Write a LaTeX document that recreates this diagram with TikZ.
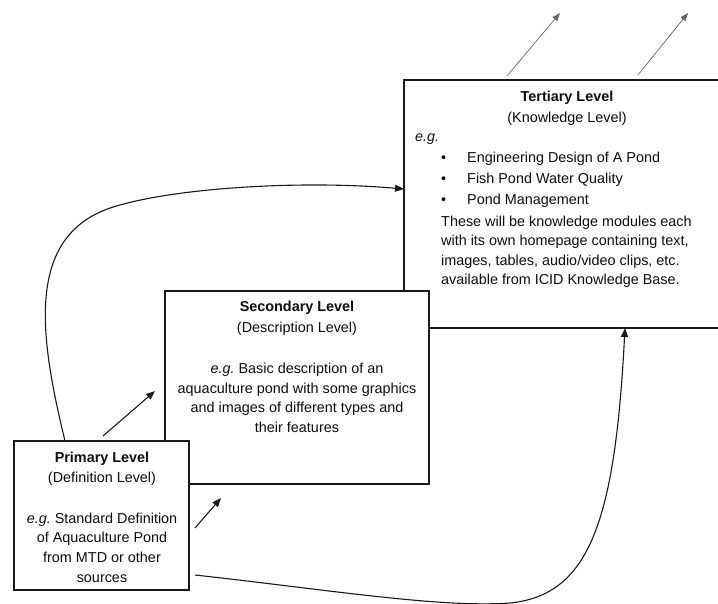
\documentclass[tikz,border=0pt]{standalone}
\usepackage{fontspec}
\setmainfont{Liberation Sans}
\usetikzlibrary{arrows.meta}
\begin{document}
\frenchspacing
\begin{tikzpicture}[x=1pt,y=-1pt,
  box/.style={draw=black!90, line width=1.2pt, fill=white, inner sep=0pt, outer sep=0pt, anchor=north west},
  txt/.style={font=\fontsize{14.4}{19.5}\selectfont, text=black!95, inner sep=0pt, anchor=base},
  ltxt/.style={txt, anchor=base west},
  ttl/.style={txt, font=\fontsize{14.4}{19.5}\selectfont\bfseries},
  arr/.style={line width=1.1pt, draw=black!90, -{Triangle[length=9pt,width=7pt]}},
  thinarr/.style={line width=0.7pt, draw=black!60, -{Triangle[length=8pt,width=6pt]}}]
\useasboundingbox (0,0) rectangle (718,604);
\fill[white] (0,0) rectangle (718,604);

% boxes (drawn back to front)
\node[box, minimum width=320pt, minimum height=248pt] (tert) at (404,80) {};
\node[box, minimum width=264pt, minimum height=193pt] (sec) at (165,291) {};
\node[box, minimum width=175pt, minimum height=149pt] (prim) at (14,441) {};

% connector end points
\coordinate (up1) at (560,13);
\coordinate (up2) at (688,13);

% connectors
\draw[arr] ([xshift=51pt]prim.north west) .. controls (38,330) and (25,230) .. (120,205)
  .. controls (180,188) and (300,180) .. ([yshift=-109pt]tert.north west);
\draw[arr] ([xshift=89pt,yshift=5pt]prim.north west) -- ([xshift=-10pt,yshift=-100pt]sec.north west);
\draw[arr] ([xshift=6pt,yshift=-87pt]prim.north east) -- ([xshift=56pt,yshift=-14pt]sec.south west);
\draw[arr] ([xshift=6pt,yshift=15pt]prim.south east) .. controls (330,590) and (440,608) .. (510,603)
  .. controls (590,595) and (615,520) .. ([xshift=221pt]tert.south west);
\draw[thinarr] ([xshift=103pt,yshift=4pt]tert.north west) -- (up1);
\draw[thinarr] ([xshift=234pt,yshift=5pt]tert.north west) -- (up2);

% tertiary text
\node[ttl] (t1) at (567,102) {Tertiary Level};
\node[txt] (t2) at (567,123) {(Knowledge Level)};
\node[ltxt] (t3) at (415,142) {\itshape e.g.};
\node[ltxt] (b1) at (441,163) {\textbullet};
\node[ltxt] (b2) at (441,184) {\textbullet};
\node[ltxt] (b3) at (441,205) {\textbullet};
\node[ltxt] (t4) at (467,163) {Engineering Design of A Pond};
\node[ltxt] (t5) at (467,184) {Fish Pond Water Quality};
\node[ltxt] (t6) at (467,205) {Pond Management};
\node[ltxt] (t7) at (441,227) {These will be knowledge modules each};
\node[ltxt] (t8) at (441,246) {with its own homepage containing text,};
\node[ltxt] (t9) at (441,266) {images, tables, audio/video clips, etc.};
\node[ltxt] (t10) at (441,285) {available from ICID Knowledge Base.};

% secondary text
\node[ttl] (s1) at (297,312) {Secondary Level};
\node[txt] (s2) at (297,332) {(Description Level)};
\node[txt] (s3) at (297,373) {{\itshape e.g.} Basic description of an};
\node[txt] (s4) at (297,393) {aquaculture pond with some graphics};
\node[txt] (s5) at (297,412) {and images of different types and};
\node[txt] (s6) at (297,432) {their features};

% primary text
\node[ttl] (p1) at (102,462) {Primary Level};
\node[txt] (p2) at (102,482) {(Definition Level)};
\node[txt] (p3) at (102,523) {{\itshape e.g.} Standard Definition};
\node[txt] (p4) at (102,542) {of Aquaculture Pond};
\node[txt] (p5) at (102,562) {from MTD or other};
\node[txt] (p6) at (102,582) {sources};
\end{tikzpicture}
\end{document}
